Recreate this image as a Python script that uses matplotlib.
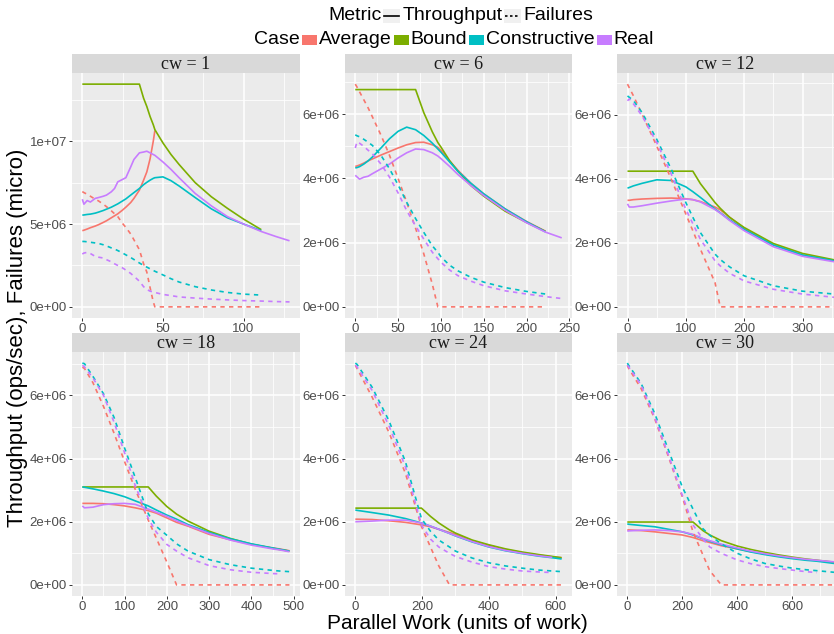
import numpy as np
import matplotlib
matplotlib.use("Agg")
import matplotlib.pyplot as plt
from matplotlib.patches import Rectangle
from matplotlib.lines import Line2D

plt.rcParams['font.family'] = ['Liberation Sans', 'DejaVu Sans']

# values are in millions (ops/sec or micro failures)
cw1_x = [0, 1, 3, 5, 8, 10, 13, 15, 18, 20, 22, 25, 27, 30, 32, 35.4, 38, 40, 42, 44, 45,
         50, 55, 60, 70, 80, 90, 100, 111, 120, 128.5]
cw1_avg = [4.6, 4.63, 4.7, 4.78, 4.88, 4.96, 5.1, 5.2, 5.38, 5.5, 5.62, 5.85, 6.02, 6.3, 6.55,
           7.05, 7.65, 8.15, 8.93, 10.0, 10.65, None, None, None, None, None, None, None, None,
           None, None]
cw1_bound = [13.45, 13.45, 13.45, 13.45, 13.45, 13.45, 13.45, 13.45, 13.45, 13.45, 13.45, 13.45,
             13.45, 13.45, 13.45, 13.45, 12.6, 12.1, 11.5, 11.0, 10.7, 9.9, 9.2, 8.6, 7.5, 6.65,
             5.95, 5.3, 4.66, None, None]
cw1_con = [5.54, 5.55, 5.58, 5.6, 5.66, 5.72, 5.82, 5.9, 6.02, 6.12, 6.22, 6.4, 6.52, 6.75, 6.9,
           7.15, 7.38, 7.52, 7.65, 7.76, 7.8, 7.85, 7.62, 7.3, 6.6, 5.92, 5.38, 5.0, 4.6, None, None]
cw1_real = [6.5, 6.2, 6.42, 6.33, 6.55, 6.6, 6.68, 6.75, 6.95, 7.15, 7.55, 7.7, 7.8, 8.45, 8.9,
            9.3, 9.35, 9.4, 9.3, 9.2, 9.15, 8.75, 8.3, 7.8, 6.85, 6.1, 5.45, 5.0, 4.55, 4.25, 3.99]
cw1_avg_fail = [6.96, 6.9, 6.8, 6.68, 6.5, 6.4, 6.2, 6.05, 5.8, 5.62, 5.45, 5.03, 4.8, 4.4, 4.05,
                3.45, 2.6, 2.1, 1.17, 0.3, 0, 0, 0, 0, 0, 0, 0, 0, 0, None, None]
cw1_con_fail = [3.95, 3.95, 3.93, 3.9, 3.86, 3.83, 3.75, 3.68, 3.56, 3.49, 3.4, 3.25, 3.14, 2.98,
                2.86, 2.65, 2.5, 2.4, 2.3, 2.2, 2.15, 1.93, 1.7, 1.5, 1.22, 1.02, 0.87, 0.77, 0.71,
                None, None]
cw1_real_fail = [3.19, 3.25, 3.29, 3.22, 3.05, 3.0, 2.95, 2.85, 2.72, 2.6, 2.5, 2.35, 2.22, 2.02,
                 1.85, 1.55, 1.22, 1.05, 0.95, 0.9, 0.87, 0.75, 0.68, 0.6, 0.53, 0.47, 0.42, 0.38,
                 0.35, 0.32, 0.3]

cw6_x = [0, 2, 5, 10, 15, 20, 30, 40, 50, 60, 70.4, 80, 90, 96.4, 100, 110, 120, 135, 150, 175,
         200, 222, 241]
cw6_avg = [4.375, 4.39, 4.42, 4.48, 4.55, 4.61, 4.73, 4.84, 4.95, 5.05, 5.12, 5.13, 5.05, 4.97,
           4.88, 4.55, 4.25, 3.85, 3.52, 3.05, 2.66, 2.36, None]
cw6_bound = [6.77, 6.77, 6.77, 6.77, 6.77, 6.77, 6.77, 6.77, 6.77, 6.77, 6.77, 6.05, 5.45, 5.12,
             4.98, 4.56, 4.22, 3.78, 3.45, 2.98, 2.63, 2.35, None]
cw6_con = [4.33, 4.34, 4.37, 4.45, 4.55, 4.67, 4.95, 5.24, 5.47, 5.6, 5.52, 5.34, 5.1, 4.92, 4.82,
           4.52, 4.22, 3.85, 3.52, 3.05, 2.65, 2.34, None]
cw6_real = [4.1, 4.05, 3.98, 4.04, 4.07, 4.15, 4.3, 4.45, 4.64, 4.8, 4.92, 4.9, 4.8, 4.7, 4.62,
            4.38, 4.12, 3.78, 3.47, 3.01, 2.62, 2.33, 2.15]
cw6_avg_fail = [6.94, 6.85, 6.7, 6.45, 6.2, 5.92, 5.35, 4.72, 4.0, 3.26, 2.45, 1.65, 0.7, 0, 0, 0,
                0, 0, 0, 0, 0, 0, None]
cw6_con_fail = [5.36, 5.33, 5.3, 5.22, 5.13, 5.03, 4.72, 4.3, 3.8, 3.26, 2.75, 2.32, 1.9, 1.7,
                1.56, 1.3, 1.12, 0.92, 0.77, 0.6, 0.48, 0.4, None]
cw6_real_fail = [4.95, 5.14, 5.1, 5.0, 4.88, 4.77, 4.45, 4.04, 3.55, 3.0, 2.52, 2.11, 1.7, 1.5,
                 1.39, 1.15, 0.97, 0.8, 0.66, 0.5, 0.4, 0.32, 0.26]

cw12_x = [0, 3, 10, 25, 50, 75, 100, 112, 125, 150, 159, 175, 200, 250, 300, 354]
cw12_avg = [3.33, 3.33, 3.35, 3.37, 3.39, 3.4, 3.38, 3.35, 3.29, 3.12, 3.03, 2.8, 2.45, 1.94, 1.62,
            1.44]
cw12_bound = [4.24, 4.24, 4.24, 4.24, 4.24, 4.24, 4.24, 4.24, 3.85, 3.26, 3.08, 2.8, 2.48, 1.98,
              1.67, 1.47]
cw12_con = [3.71, 3.73, 3.78, 3.86, 3.97, 3.95, 3.75, 3.6, 3.42, 3.06, 2.94, 2.72, 2.42, 1.93, 1.62,
            1.44]
cw12_real = [3.22, 3.12, 3.12, 3.16, 3.24, 3.31, 3.37, 3.35, 3.28, 3.04, 2.93, 2.7, 2.38, 1.88,
             1.58, 1.41]
cw12_avg_fail = [6.96, 6.85, 6.6, 6.02, 5.03, 3.99, 2.9, 2.38, 1.8, 0.76, 0, 0, 0, 0, 0, 0]
cw12_con_fail = [6.59, 6.55, 6.45, 6.07, 5.24, 4.3, 3.26, 2.8, 2.32, 1.65, 1.48, 1.25, 0.97, 0.66,
                 0.49, 0.4]
cw12_real_fail = [6.44, 6.5, 6.35, 5.97, 5.14, 4.15, 3.05, 2.6, 2.11, 1.44, 1.28, 1.05, 0.81, 0.55,
                  0.4, 0.3]

cw18_x = [0, 5, 25, 50, 75, 100, 125, 156, 175, 200, 223, 250, 300, 350, 400, 450, 466, 490]
cw18_avg = [2.58, 2.58, 2.58, 2.57, 2.54, 2.5, 2.44, 2.35, 2.27, 2.12, 1.98, 1.86, 1.6, 1.43, 1.28,
            1.17, 1.14, 1.08]
cw18_bound = [3.1, 3.1, 3.1, 3.1, 3.1, 3.1, 3.1, 3.1, 2.81, 2.48, 2.24, 2.02, 1.7, 1.47, 1.29, 1.16,
              1.12, 1.07]
cw18_con = [3.1, 3.09, 3.04, 2.97, 2.89, 2.79, 2.66, 2.5, 2.37, 2.21, 2.08, 1.91, 1.66, 1.46, 1.3,
            1.17, 1.13, 1.07]
cw18_real = [2.5, 2.44, 2.46, 2.54, 2.57, 2.58, 2.55, 2.4, 2.3, 2.17, 2.03, 1.88, 1.63, 1.42, 1.26,
             1.14, 1.11, 1.05]
cw18_avg_fail = [6.89, 6.85, 6.4, 5.65, 4.8, 3.9, 3.03, 2.05, 1.48, 0.72, 0, 0, 0, 0, 0, 0, 0, 0]
cw18_con_fail = [7.02, 7.0, 6.6, 6.05, 5.3, 4.33, 3.4, 2.25, 1.85, 1.57, 1.3, 1.07, 0.8, 0.64, 0.53,
                 0.46, 0.44, 0.42]
cw18_real_fail = [6.95, 6.9, 6.55, 6.0, 5.15, 4.18, 3.15, 2.1, 1.67, 1.28, 1.07, 0.86, 0.61, 0.48,
                  0.4, 0.36, 0.35, None]

cw24_x = [0, 5, 50, 100, 150, 198, 225, 250, 282, 300, 350, 400, 450, 500, 550, 590, 618]
cw24_avg = [2.08, 2.08, 2.07, 2.03, 1.98, 1.9, 1.84, 1.76, 1.66, 1.6, 1.4, 1.25, 1.12, 1.02, 0.94,
            0.89, 0.86]
cw24_bound = [2.43, 2.43, 2.43, 2.43, 2.43, 2.43, 2.17, 1.96, 1.74, 1.64, 1.42, 1.27, 1.14, 1.04,
              0.96, 0.9, 0.86]
cw24_con = [2.37, 2.36, 2.29, 2.21, 2.1, 1.96, 1.86, 1.76, 1.63, 1.55, 1.36, 1.2, 1.08, 0.99, 0.91,
            0.86, 0.82]
cw24_real = [2.0, 2.0, 2.02, 2.05, 2.05, 1.96, 1.86, 1.76, 1.63, 1.56, 1.37, 1.21, 1.09, 1.0, 0.92,
             0.87, None]
cw24_avg_fail = [6.95, 6.85, 5.95, 4.84, 3.53, 1.85, 1.2, 0.6, 0, 0, 0, 0, 0, 0, 0, 0, 0]
cw24_con_fail = [7.02, 6.98, 6.26, 5.21, 3.9, 2.1, 1.7, 1.42, 1.2, 1.07, 0.85, 0.7, 0.6, 0.53, 0.47,
                 0.44, 0.42]
cw24_real_fail = [6.95, 6.9, 6.16, 5.05, 3.74, 1.9, 1.45, 1.2, 1.0, 0.9, 0.72, 0.58, 0.5, 0.44,
                  0.41, 0.39, None]

cw30_x = [0, 5, 50, 100, 150, 200, 239, 275, 300, 342, 400, 450, 500, 550, 600, 650, 690, 752]
cw30_avg = [1.74, 1.74, 1.72, 1.68, 1.63, 1.58, 1.5, 1.4, 1.34, 1.24, 1.14, 1.05, 0.98, 0.91, 0.86,
            0.8, 0.77, 0.71]
cw30_bound = [1.99, 1.99, 1.99, 1.99, 1.99, 1.99, 1.99, 1.72, 1.58, 1.4, 1.23, 1.12, 1.03, 0.95,
              0.88, 0.82, 0.78, 0.72]
cw30_con = [1.93, 1.92, 1.88, 1.84, 1.76, 1.68, 1.58, 1.46, 1.38, 1.27, 1.14, 1.04, 0.96, 0.89,
            0.83, 0.78, 0.75, 0.68]
cw30_real = [1.7, 1.71, 1.73, 1.74, 1.72, 1.68, 1.6, 1.47, 1.4, 1.29, 1.17, 1.07, 0.99, 0.92, 0.86,
             0.81, 0.78, 0.73]
cw30_avg_fail = [6.95, 6.85, 6.22, 5.25, 4.05, 2.79, 1.68, 0.95, 0.45, 0, 0, 0, 0, 0, 0, 0, 0, 0]
cw30_con_fail = [7.02, 6.95, 6.38, 5.42, 4.26, 3.1, 2.4, 1.78, 1.57, 1.3, 1.0, 0.82, 0.68, 0.6, 0.53,
                 0.48, 0.45, 0.4]
cw30_real_fail = [6.95, 6.9, 6.33, 5.3, 4.1, 2.84, 1.9, 1.45, 1.2, 1.0, 0.79, 0.67, 0.58, 0.52,
                  0.47, 0.42, 0.39, None]

cases = ['Average', 'Bound', 'Constructive', 'Real']
colors = ['#F8766D', '#7CAE00', '#00BFC4', '#C77CFF']

panels = [
    (1, cw1_x, [cw1_avg, cw1_bound, cw1_con, cw1_real], [cw1_avg_fail, None, cw1_con_fail, cw1_real_fail]),
    (6, cw6_x, [cw6_avg, cw6_bound, cw6_con, cw6_real], [cw6_avg_fail, None, cw6_con_fail, cw6_real_fail]),
    (12, cw12_x, [cw12_avg, cw12_bound, cw12_con, cw12_real], [cw12_avg_fail, None, cw12_con_fail, cw12_real_fail]),
    (18, cw18_x, [cw18_avg, cw18_bound, cw18_con, cw18_real], [cw18_avg_fail, None, cw18_con_fail, cw18_real_fail]),
    (24, cw24_x, [cw24_avg, cw24_bound, cw24_con, cw24_real], [cw24_avg_fail, None, cw24_con_fail, cw24_real_fail]),
    (30, cw30_x, [cw30_avg, cw30_bound, cw30_con, cw30_real], [cw30_avg_fail, None, cw30_con_fail, cw30_real_fail]),
]

# axis settings per panel: xlim, x major tick step, y major step
xlims = [(-6.4, 135), (-12, 253), (-18, 354), (-24.5, 515), (-31, 649), (-37.5, 752)]
xsteps = [50, 50, 100, 100, 200, 200]
ysteps = [5e6, 2e6, 2e6, 2e6, 2e6, 2e6]

W, H = 834, 634
fig = plt.figure(figsize=(W / 100, H / 100), dpi=100)

cols = [(72, 300), (345, 572), (617, 834)]
rows = [(54, 73, 318), (333, 352, 596)]

tick_col = '#4D4D4D'

for i, (cw, xs, thr, fails) in enumerate(panels):
    c0, c1 = cols[i % 3]
    s0, p0, p1 = rows[i // 3]
    ax = fig.add_axes([c0 / W, 1 - p1 / H, (c1 - c0) / W, (p1 - p0) / H])
    strip = fig.add_axes([c0 / W, 1 - p0 / H, (c1 - c0) / W, (p0 - s0) / H])
    strip.set_facecolor('#D9D9D9')
    strip.set_xticks([])
    strip.set_yticks([])
    for sp in strip.spines.values():
        sp.set_visible(False)
    strip.text(0.5, 0.45, f'cw = {cw}', ha='center', va='center', fontsize=13,
               family='Liberation Serif', color='#1A1A1A', transform=strip.transAxes)

    ax.set_facecolor('#EBEBEB')
    for sp in ax.spines.values():
        sp.set_visible(False)

    x = np.array(xs, dtype=float)
    ymax = 0
    for ys, col in zip(thr, colors):
        y = np.array(ys, dtype=float) * 1e6
        ymax = max(ymax, np.nanmax(y))
        ax.plot(x, y, color=col, lw=1.2, solid_capstyle='butt', zorder=3)
    for ys, col in zip(fails, colors):
        if ys is None:
            continue
        y = np.array(ys, dtype=float) * 1e6
        ymax = max(ymax, np.nanmax(y))
        ax.plot(x, y, color=col, lw=1.2, linestyle=(0, (2.6, 2.6)), zorder=3)

    pad = 0.05 * ymax
    ax.set_ylim(-pad, ymax + pad)
    ax.set_xlim(*xlims[i])

    xs_step = xsteps[i]
    xmaj = np.arange(0, xlims[i][1] + 1, xs_step)
    xmaj = xmaj[xmaj <= xlims[i][1]]
    xmin = np.arange(xs_step / 2, xlims[i][1], xs_step)
    ys_step = ysteps[i]
    ymaj = np.arange(0, ymax + pad, ys_step)
    ymin = np.arange(ys_step / 2, ymax + pad, ys_step)
    ax.set_xticks(xmaj)
    ax.set_xticklabels([f'{v:g}' for v in xmaj])
    ax.set_xticks(xmin, minor=True)
    ax.set_yticks(ymaj)
    ax.set_yticklabels([f'{v:.0e}' for v in ymaj])
    ax.set_yticks(ymin, minor=True)
    ax.grid(which='major', color='white', lw=1.1, zorder=0)
    ax.grid(which='minor', color='white', lw=0.55, zorder=0)
    ax.set_axisbelow(True)
    ax.tick_params(which='major', length=2.5, width=0.7, color='#333333', labelsize=9.5,
                   labelcolor=tick_col, pad=1.2)
    ax.tick_params(which='minor', length=0)

fig.text(457 / W, 1 - 629 / H, 'Parallel Work (units of work)', ha='center', va='baseline',
         fontsize=15)
fig.text(18 / W, 1 - 338 / H, 'Throughput (ops/sec), Failures (micro)', ha='center',
         va='center', rotation=90, fontsize=16)

# legend drawn by hand, two rows
fig.canvas.draw()
rend = fig.canvas.get_renderer()


def put_text(xpx, ypx, s):
    t = fig.text(xpx / W, 1 - ypx / H, s, fontsize=14, ha='left', va='center')
    return xpx + t.get_window_extent(renderer=rend).width


def key_line(xpx, ypx, ls):
    fig.add_artist(Rectangle((xpx / W, 1 - (ypx + 7) / H), 17 / W, 14 / H,
                             transform=fig.transFigure, color='#F0F0F0', lw=0))
    fig.add_artist(Line2D([(xpx + 1) / W, (xpx + 16) / W], [1 - ypx / H, 1 - ypx / H],
                          transform=fig.transFigure, color='black', lw=1.2, linestyle=ls))
    return xpx + 17


def key_box(xpx, ypx, col):
    fig.add_artist(Rectangle(((xpx + 1) / W, 1 - (ypx + 5) / H), 15 / W, 10 / H,
                             transform=fig.transFigure, color=col, lw=0))
    return xpx + 17


y1 = 16
xp = put_text(328, y1, 'Metric')
xp = key_line(xp + 2, y1, '-')
xp = put_text(xp + 2, y1, 'Throughput')
xp = key_line(xp + 2, y1, (0, (1.5, 1.5)))
put_text(xp + 2, y1, 'Failures')

y2 = 40
xp = put_text(254, y2, 'Case')
for name, col in zip(cases, colors):
    xp = key_box(xp + 1, y2, col)
    xp = put_text(xp + 1, y2, name)

fig.savefig('out.png', dpi=100)
